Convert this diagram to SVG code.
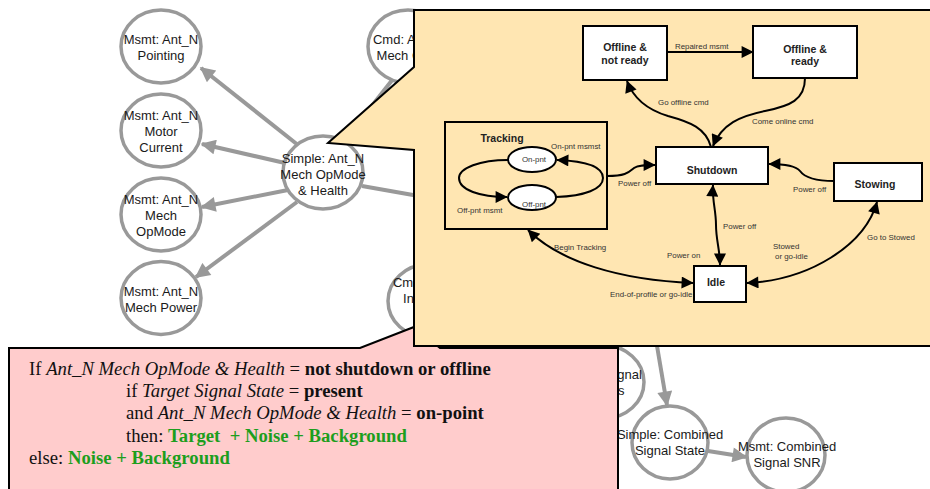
<svg xmlns="http://www.w3.org/2000/svg" width="930" height="489" viewBox="0 0 930 489">
<defs>
<marker id="ga" viewBox="0 0 10 10" refX="9" refY="5" markerWidth="17" markerHeight="15" markerUnits="userSpaceOnUse" orient="auto"><path d="M0,0L10,5L0,10z" fill="#999"/></marker>
<marker id="ba" viewBox="0 0 10 10" refX="9.5" refY="5" markerWidth="15" markerHeight="12" markerUnits="userSpaceOnUse" orient="auto-start-reverse"><path d="M0,0L10,5L0,10z" fill="#000"/></marker>
</defs>
<style>
.n ellipse{fill:#fff;stroke:#999;stroke-width:3.5}
.n text{font-family:"Liberation Sans",Arial,sans-serif;font-size:13px;fill:#1a1a1a;text-anchor:middle}
.g{fill:none;stroke:#999;stroke-width:4}
.s rect,.s ellipse{fill:#fff;stroke:#000;stroke-width:2}
.st{font-family:"Liberation Sans",Arial,sans-serif;font-weight:bold;font-size:10.5px;fill:#222;text-anchor:middle}
.e{fill:none;stroke:#000;stroke-width:2}
.el{font-family:"Liberation Sans",Arial,sans-serif;font-size:7.9px;fill:#333}
.p{font-family:"Liberation Serif","Times New Roman",serif;font-size:18.7px;fill:#111}
.i{font-style:italic}.b{font-weight:bold}.gr{font-weight:bold;fill:#1d9e1d}
</style>
<rect width="930" height="489" fill="#fff"/>

<g id="connectors">
<path class="g" d="M298,145 L201,68" marker-end="url(#ga)"/>
<path class="g" d="M285,163 L202,144" marker-end="url(#ga)"/>
<path class="g" d="M288,190 L202,207" marker-end="url(#ga)"/>
<path class="g" d="M297,202 L196,277" marker-end="url(#ga)"/>
<path class="g" d="M362,186 L430,198"/>
<path class="g" d="M393,79 L345,140"/>
<path class="g" d="M656,340 L667,405" marker-end="url(#ga)"/>
<path class="g" d="M708,451 L746,457" marker-end="url(#ga)"/>
</g>

<g id="msmt-pointing" class="n"><ellipse cx="161" cy="46.5" rx="40" ry="36.5"/><text x="161" y="44">Msmt: Ant_N</text><text x="161" y="60">Pointing</text></g>
<g id="msmt-motor-current" class="n"><ellipse cx="161" cy="130.5" rx="40" ry="36.5"/><text x="161" y="120">Msmt: Ant_N</text><text x="161" y="136">Motor</text><text x="161" y="152">Current</text></g>
<g id="msmt-mech-opmode" class="n"><ellipse cx="161" cy="214.5" rx="40" ry="36.5"/><text x="161" y="204">Msmt: Ant_N</text><text x="161" y="220">Mech</text><text x="161" y="236">OpMode</text></g>
<g id="msmt-mech-power" class="n"><ellipse cx="161" cy="298" rx="40" ry="36.5"/><text x="161" y="296">Msmt: Ant_N</text><text x="161" y="312">Mech Power</text></g>
<g id="simple-mech-opmode-health" class="n"><ellipse cx="323" cy="172.5" rx="40" ry="36.5"/><text x="323" y="163">Simple: Ant_N</text><text x="323" y="179">Mech OpMode</text><text x="323" y="195">&amp; Health</text></g>
<g id="cmd-mech" class="n"><ellipse cx="408" cy="46.5" rx="40" ry="36.5"/><text x="408" y="44">Cmd: Ant_N</text><text x="408" y="60">Mech Cmd</text></g>
<g id="cmd-in" class="n"><ellipse cx="428" cy="301" rx="40" ry="36.5"/><text x="428" y="287">Cmd: Ant_N</text><text x="428" y="303">Insertion</text></g>
<g id="target-signal" class="n"><ellipse cx="604" cy="382" rx="40" ry="36.5"/><text x="604" y="379">Target Signal</text><text x="604" y="395">Counts</text></g>
<g id="simple-combined-signal-state" class="n"><ellipse cx="670" cy="442.5" rx="38" ry="36.5"/><text x="670" y="439">Simple: Combined</text><text x="670" y="455">Signal State</text></g>
<g id="msmt-combined-signal-snr" class="n"><ellipse cx="786" cy="455" rx="39" ry="37"/><text x="787" y="451">Msmt: Combined</text><text x="787" y="467">Signal SNR</text></g>

<g id="rule-callout">
<path d="M9,348 H360 L414,327 L440,348 H618 V496 H9 Z" fill="#ffcccc" stroke="#000" stroke-width="2"/>
<text class="p" x="29" y="375">If <tspan class="i">Ant_N Mech OpMode &amp; Health</tspan> = <tspan class="b">not shutdown or offline</tspan></text>
<text class="p" x="126" y="397">if <tspan class="i">Target Signal State</tspan> = <tspan class="b">present</tspan></text>
<text class="p" x="126" y="419">and <tspan class="i">Ant_N Mech OpMode &amp; Health</tspan> = <tspan class="b">on-point</tspan></text>
<text class="p" x="126" y="442" xml:space="preserve">then: <tspan class="gr">Target  + Noise + Background</tspan></text>
<text class="p" x="29" y="464">else: <tspan class="gr">Noise + Background</tspan></text>
</g>

<g id="state-callout">
<path d="M414,10 H936 V346 H414 V150 L328,143 L414,67 Z" fill="#ffe6b2" stroke="#000" stroke-width="2"/>
</g>

<g id="state-connectors">
<path class="e" d="M667,52 L753,52" marker-end="url(#ba)"/>
<path class="e" d="M711,147 C706,128 690,122 668,116 C648,110 634,100 627,81" marker-end="url(#ba)"/>
<path class="e" d="M805,78 C805,100 790,106 765,111 C740,116 722,124 713,146" marker-end="url(#ba)"/>
<path class="e" d="M607,176 C625,176 628,173 634,168 C638,165 645,165 655,165" marker-end="url(#ba)"/>
<path class="e" d="M834,181 C815,181 805,178 800,171 C796,166 785,164 769,164" marker-end="url(#ba)"/>
<path class="e" d="M713,185 C712,200 716,210 716,225 C716,240 720,250 720,265" marker-start="url(#ba)" marker-end="url(#ba)"/>
<path class="e" d="M528,230 C560,262 620,280 693,283" marker-start="url(#ba)" marker-end="url(#ba)"/>
<path class="e" d="M747,283 C810,280 865,245 877,202" marker-start="url(#ba)" marker-end="url(#ba)"/>
<path class="e" d="M508,160 C480,160 459,168 459,178 C459,190 480,197 507,197" marker-end="url(#ba)"/>
<path class="e" d="M556,197 C585,196 603,189 603,178 C603,166 585,161 557,160" marker-end="url(#ba)"/>
<text class="el" x="675" y="49">Repaired msmt</text>
<text class="el" x="658" y="105">Go offline cmd</text>
<text class="el" x="752" y="124">Come online cmd</text>
<text class="el" x="618" y="186">Power off</text>
<text class="el" x="793" y="192">Power off</text>
<text class="el" x="723" y="229">Power off</text>
<text class="el" x="667" y="258">Power on</text>
<text class="el" x="554" y="250">Begin Tracking</text>
<text class="el" x="610" y="297">End-of-profile or go-idle</text>
<text class="el" x="773" y="249">Stowed</text>
<text class="el" x="775" y="259">or go-idle</text>
<text class="el" x="867" y="240">Go to Stowed</text>
<text class="el" x="551" y="149">On-pnt msmst</text>
<text class="el" x="457" y="213">Off-pnt msmt</text>
</g>

<g id="state-offline-not-ready" class="s"><rect x="583" y="26" width="84" height="54"/><text class="st" x="625" y="51">Offline &amp;</text><text class="st" x="625" y="64">not ready</text></g>
<g id="state-offline-ready" class="s"><rect x="753" y="26" width="104" height="52"/><text class="st" x="805" y="53">Offline &amp;</text><text class="st" x="805" y="65">ready</text></g>
<g id="state-shutdown" class="s"><rect x="656" y="147" width="112" height="37"/><text class="st" x="712" y="174">Shutdown</text></g>
<g id="state-stowing" class="s"><rect x="834" y="163" width="88" height="38"/><text class="st" x="875" y="188">Stowing</text></g>
<g id="state-idle" class="s"><rect x="694" y="266" width="52" height="36"/><text class="st" x="716" y="286">Idle</text></g>
<g id="state-tracking"><rect x="445" y="122" width="162" height="107" fill="none" stroke="#000" stroke-width="2"/><text class="st" x="502" y="142">Tracking</text></g>
<g id="state-on-pnt" class="s"><ellipse cx="532" cy="159.5" rx="24" ry="12.5"/><text class="el" x="534" y="162" text-anchor="middle">On-pnt</text></g>
<g id="state-off-pnt" class="s"><ellipse cx="532" cy="197.5" rx="24" ry="12.5"/><text class="el" x="534" y="207" text-anchor="middle">Off-pnt</text></g>
</svg>
